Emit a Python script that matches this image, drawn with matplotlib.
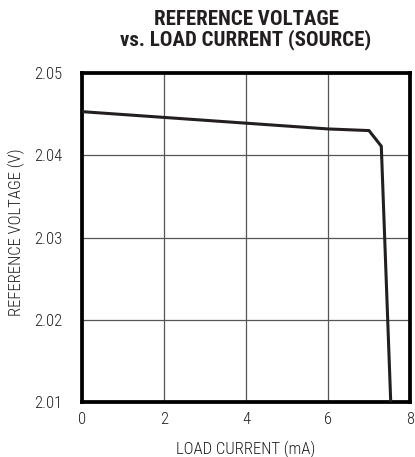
import matplotlib
matplotlib.use("Agg")
import matplotlib.pyplot as plt

plt.rcParams['font.family'] = ['Roboto Condensed', 'Archivo Narrow', 'PT Sans Narrow', 'DejaVu Sans']

load_current_ma = [0.0, 2.0, 4.0, 6.0, 7.0, 7.3, 7.53]
ref_voltage_v = [2.0453, 2.0446, 2.0439, 2.0432, 2.0430, 2.0411, 2.0100]
x_ticks = [0, 2, 4, 6, 8]
y_ticks = [2.01, 2.02, 2.03, 2.04, 2.05]
y_tick_labels = ['2.01', '2.02', '2.03', '2.04', '2.05']

fig = plt.figure(figsize=(4.15, 4.57), dpi=100)
ax = fig.add_axes([82/415, 1-402/457, (410-82)/415, (402-73)/457])
ax.plot(load_current_ma, ref_voltage_v, color='#231f20', lw=2.2, solid_joinstyle='miter', zorder=3)
ax.set_xlim(0, 8)
ax.set_ylim(2.01, 2.05)
ax.set_xticks(x_ticks)
ax.set_yticks(y_ticks)
ax.set_yticklabels(y_tick_labels)
ax.grid(True, color='#555555', lw=0.9)
ax.tick_params(length=0, labelsize=12, colors='#231f20')
ax.tick_params(axis='y', pad=14)
ax.tick_params(axis='x', pad=7)
for lab in ax.get_xticklabels() + ax.get_yticklabels():
    lab.set_fontweight('light')
for s in ax.spines.values():
    s.set_linewidth(2.7)
    s.set_color('black')
ax.set_xlabel('LOAD CURRENT (mA)', fontsize=12, color='#231f20', va='top', fontweight='light')
ax.xaxis.set_label_coords(0.5, (402-441)/329)
fig.text(16/415, 1-232/457, 'REFERENCE VOLTAGE (V)', rotation=90, ha='center', va='center',
         fontsize=12, color='#231f20', fontweight='light')
fig.text((82+410)/2/415, 1-30/457, 'REFERENCE VOLTAGE\nvs. LOAD CURRENT (SOURCE)', ha='center', va='center',
         fontsize=15, fontweight=800, color='#231f20', linespacing=0.98)
fig.savefig('out.png', dpi=100)
